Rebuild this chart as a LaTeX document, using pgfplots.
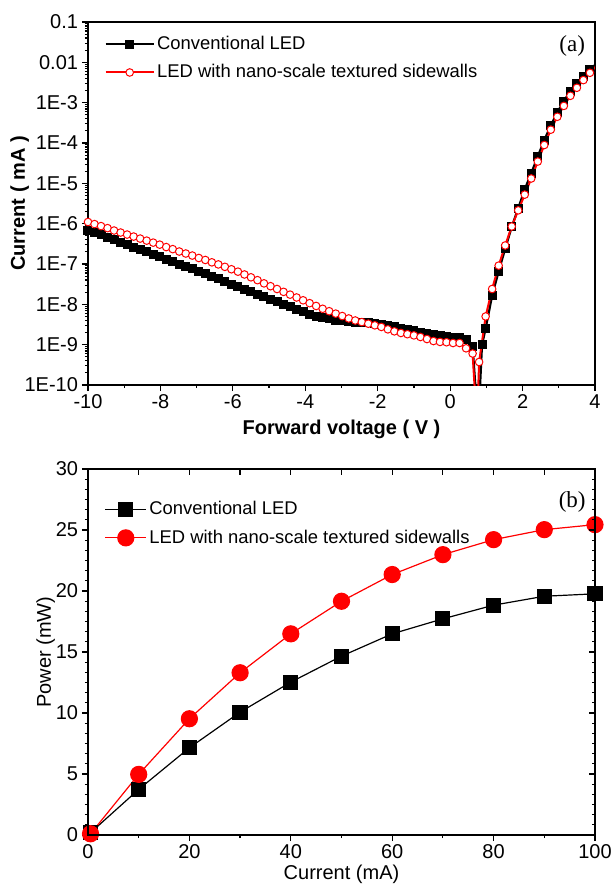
\documentclass[border=0pt]{standalone}
\usepackage{fontspec}
\setmainfont{Liberation Sans}
\newfontfamily\serif{Liberation Serif}
\usepackage{pgfplots}
\usepackage{pgfplotstable}
\pgfplotsset{compat=1.18}

% panel (a): I-V curves, current in mA
\pgfplotstableread{
v i
-10.00 6.92e-7
-9.82 6.03e-7
-9.64 5.25e-7
-9.46 4.57e-7
-9.28 3.98e-7
-9.10 3.47e-7
-8.92 3.02e-7
-8.74 2.63e-7
-8.56 2.29e-7
-8.38 2.00e-7
-8.20 1.74e-7
-8.02 1.51e-7
-7.84 1.32e-7
-7.66 1.15e-7
-7.48 1.00e-7
-7.30 8.71e-8
-7.12 7.59e-8
-6.94 6.61e-8
-6.76 5.75e-8
-6.58 4.90e-8
-6.40 4.27e-8
-6.22 3.72e-8
-6.04 3.16e-8
-5.86 2.75e-8
-5.68 2.40e-8
-5.50 2.04e-8
-5.32 1.78e-8
-5.14 1.55e-8
-4.96 1.32e-8
-4.78 1.15e-8
-4.60 1.00e-8
-4.42 8.71e-9
-4.24 7.41e-9
-4.06 6.46e-9
-3.88 5.75e-9
-3.70 5.13e-9
-3.52 4.68e-9
-3.34 4.37e-9
-3.16 4.07e-9
-2.98 3.89e-9
-2.80 3.72e-9
-2.62 3.63e-9
-2.44 3.55e-9
-2.26 3.47e-9
-2.08 3.39e-9
-1.90 3.16e-9
-1.72 2.95e-9
-1.54 2.75e-9
-1.36 2.57e-9
-1.18 2.40e-9
-1.00 2.19e-9
-0.82 2.04e-9
-0.64 1.91e-9
-0.46 1.78e-9
-0.28 1.70e-9
-0.10 1.62e-9
0.08 1.55e-9
0.26 1.48e-9
0.44 1.38e-9
0.62 8.91e-10
0.775 1e-11
0.88 1.00e-9
0.98 2.51e-9
1.16 1.66e-8
1.34 6.61e-8
1.52 2.40e-7
1.70 8.32e-7
1.88 2.40e-6
2.06 7.08e-6
2.24 1.78e-5
2.42 4.68e-5
2.60 1.17e-4
2.78 2.75e-4
2.96 5.75e-4
3.14 1.10e-3
3.32 1.91e-3
3.50 3.02e-3
3.68 4.57e-3
3.86 6.61e-3
4.04 9.33e-3
}\convIV

\pgfplotstableread{
v i
-10.00 1.10e-6
-9.82 9.77e-7
-9.64 8.71e-7
-9.46 7.76e-7
-9.28 6.76e-7
-9.10 6.03e-7
-8.92 5.37e-7
-8.74 4.79e-7
-8.56 4.27e-7
-8.38 3.80e-7
-8.20 3.39e-7
-8.02 3.02e-7
-7.84 2.63e-7
-7.66 2.34e-7
-7.48 2.04e-7
-7.30 1.82e-7
-7.12 1.62e-7
-6.94 1.41e-7
-6.76 1.26e-7
-6.58 1.10e-7
-6.40 9.77e-8
-6.22 8.51e-8
-6.04 7.41e-8
-5.86 6.46e-8
-5.68 5.50e-8
-5.50 4.68e-8
-5.32 3.98e-8
-5.14 3.31e-8
-4.96 2.82e-8
-4.78 2.40e-8
-4.60 2.04e-8
-4.42 1.74e-8
-4.24 1.48e-8
-4.06 1.26e-8
-3.88 1.07e-8
-3.70 9.12e-9
-3.52 7.76e-9
-3.34 6.76e-9
-3.16 5.89e-9
-2.98 5.13e-9
-2.80 4.47e-9
-2.62 3.98e-9
-2.44 3.63e-9
-2.26 3.31e-9
-2.08 3.02e-9
-1.90 2.75e-9
-1.72 2.40e-9
-1.54 2.14e-9
-1.36 1.95e-9
-1.18 1.82e-9
-1.00 1.70e-9
-0.82 1.55e-9
-0.64 1.38e-9
-0.46 1.23e-9
-0.28 1.17e-9
-0.10 1.15e-9
0.08 1.10e-9
0.26 1.10e-9
0.44 8.13e-10
0.62 6.03e-10
0.74 1e-11
0.80 3.72e-10
0.98 5.01e-9
1.16 2.40e-8
1.34 9.12e-8
1.52 2.88e-7
1.70 8.51e-7
1.88 2.14e-6
2.06 5.25e-6
2.24 1.32e-5
2.42 3.47e-5
2.60 8.91e-5
2.78 2.14e-4
2.96 4.47e-4
3.14 8.32e-4
3.32 1.48e-3
3.50 2.34e-3
3.68 3.63e-3
3.86 5.50e-3
4.04 8.13e-3
}\texIV

% panel (b): optical power vs current
\pgfplotstableread{
i p
0.5 0.19
10 3.74
20 7.15
30 10.07
40 12.53
50 14.66
60 16.49
70 17.72
80 18.84
90 19.57
100 19.77
}\convLI

\pgfplotstableread{
i p
0.5 0.10
10 4.97
20 9.53
30 13.30
40 16.49
50 19.16
60 21.35
70 22.98
80 24.21
90 25.03
100 25.44
}\texLI

\pgfplotsset{
  every axis/.append style={
    scale only axis,
    width=253.5pt,
    axis line style={line width=0.6pt},
    every tick/.style={black, line width=0.6pt},
    major tick length=3pt,
    minor tick length=1.6pt,
    tick label style={font=\fontsize{10}{12}\selectfont, inner sep=1.8pt},
    label style={font=\fontsize{10}{12}\selectfont},
    /pgf/number format/assume math mode=true,
  },
  panellegend/.style={
    legend style={draw=none, fill=none, font=\fontsize{9.2}{11}\selectfont,
      anchor=north west, row sep=3.6pt, inner sep=0.5pt,
      nodes={inner sep=1.2pt}},
    legend cell align=left,
  },
}

\begin{document}
\begin{tikzpicture}
% ---------- (a) ----------
\begin{axis}[
  panellegend,
  legend image code/.code={\draw[mark repeat=2,mark phase=2]
      plot coordinates {(0pt,0pt)(12pt,0pt)(24pt,0pt)};},
  height=181.5pt,
  xmin=-10, xmax=4,
  ymode=log, ymin=1e-10, ymax=0.1,
  xtick={-10,-8,...,4}, minor x tick num=1,
  ytickten={-10,...,-1},
  yticklabels={1E-10,1E-9,1E-8,1E-7,1E-6,1E-5,1E-4,1E-3,0.01,0.1},
  minor ytick={2e-10,3e-10,4e-10,5e-10,6e-10,7e-10,8e-10,9e-10,
    2e-9,3e-9,4e-9,5e-9,6e-9,7e-9,8e-9,9e-9,
    2e-8,3e-8,4e-8,5e-8,6e-8,7e-8,8e-8,9e-8,
    2e-7,3e-7,4e-7,5e-7,6e-7,7e-7,8e-7,9e-7,
    2e-6,3e-6,4e-6,5e-6,6e-6,7e-6,8e-6,9e-6,
    2e-5,3e-5,4e-5,5e-5,6e-5,7e-5,8e-5,9e-5,
    2e-4,3e-4,4e-4,5e-4,6e-4,7e-4,8e-4,9e-4,
    2e-3,3e-3,4e-3,5e-3,6e-3,7e-3,8e-3,9e-3,
    2e-2,3e-2,4e-2,5e-2,6e-2,7e-2,8e-2,9e-2},
  xtick pos=bottom, ytick pos=left, tick align=outside,
  xlabel={\textbf{Forward voltage ( V )}},
  ylabel={\textbf{Current ( mA )}},
  ylabel shift={-7.5pt},
  legend style={at={(0.03,0.972)}},
]
\addplot[black, line width=1.1pt, mark=square*, mark size=1.7pt] table[x=v,y=i] {\convIV};
\addlegendentry{Conventional LED}
\addplot[red, line width=1pt, mark=*, mark size=1.9pt,
  mark options={fill=white, draw=red, line width=0.5pt}] table[x=v,y=i] {\texIV};
\addlegendentry{LED with nano-scale textured sidewalls}
\node[font=\serif\fontsize{11.5}{13}\selectfont] at (rel axis cs:0.955,0.935) {(a)};
\end{axis}

% ---------- (b) ----------
\begin{axis}[
  panellegend,
  legend image code/.code={\draw[mark repeat=2,mark phase=2]
      plot coordinates {(0pt,0pt)(10.3pt,0pt)(20.6pt,0pt)};},
  at={(0,-225pt)},
  height=183pt,
  xmin=0, xmax=100, ymin=0, ymax=30,
  xtick={0,20,...,100}, minor x tick num=1,
  ytick={0,5,...,30}, minor y tick num=5,
  xtick pos=bottom, ytick pos=left, tick align=outside,
  xlabel={Current (mA)},
  ylabel={Power (mW)},
  xlabel shift={-2.5pt},
  ylabel shift={-5pt},
  legend style={at={(0.03,0.922)}},
]
\addplot[black, line width=0.6pt, mark=square*, mark size=3.5pt] table[x=i,y=p] {\convLI};
\addlegendentry{Conventional LED}
\addplot[red, line width=0.6pt, mark=*, mark size=4pt] table[x=i,y=p] {\texLI};
\addlegendentry{LED with nano-scale textured sidewalls}
\node[font=\serif\fontsize{11.5}{13}\selectfont] at (rel axis cs:0.955,0.91) {(b)};
\end{axis}
% mirrored inner ticks on top and right of (b)
\begin{axis}[
  at={(0,-225pt)},
  height=183pt,
  xmin=0, xmax=100, ymin=0, ymax=30,
  xtick={0,10,...,100},
  ytick={0,5,...,30}, minor y tick num=5,
  xtick pos=top, ytick pos=right, tick align=inside,
  xticklabels={}, yticklabels={},
]
\end{axis}
% page margins as in the reference
\path (-44pt,192.5pt) (262.5pt,-253pt);
\end{tikzpicture}
\end{document}
